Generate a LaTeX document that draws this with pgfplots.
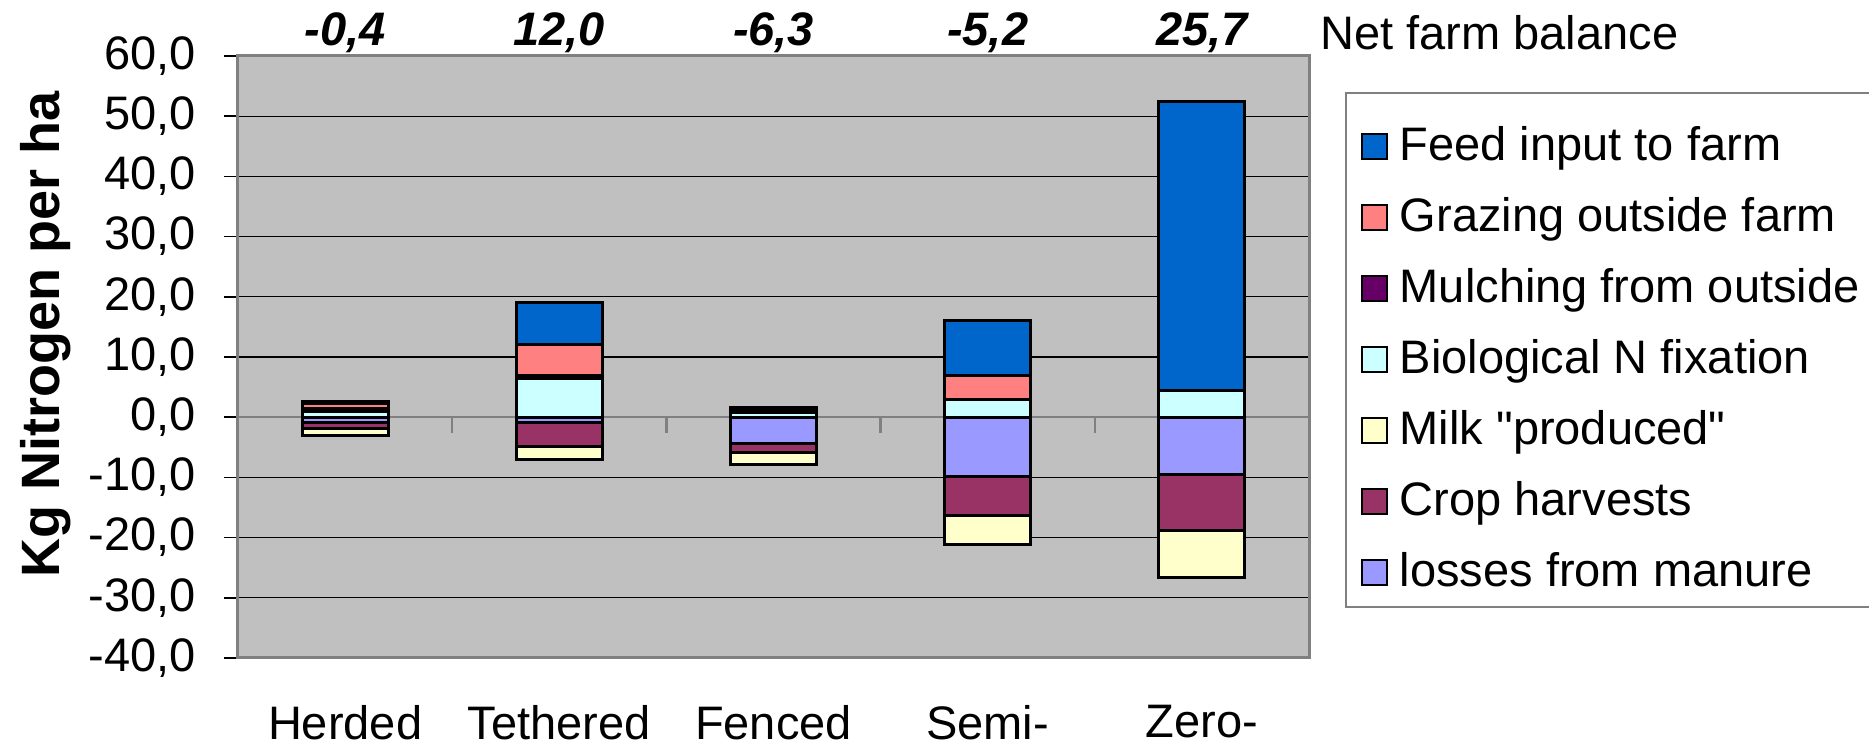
\documentclass[border=0pt]{standalone}
\usepackage{pgfplots}
\pgfplotsset{compat=1.18}
\usepackage{fontspec}
\setmainfont{Liberation Sans}
\definecolor{feed}{HTML}{0066CC}
\definecolor{grazing}{HTML}{FF8080}
\definecolor{mulch}{HTML}{660066}
\definecolor{bio}{HTML}{CCFFFF}
\definecolor{milk}{HTML}{FFFFCC}
\definecolor{crop}{HTML}{993366}
\definecolor{losses}{HTML}{9999FF}
\definecolor{plotbg}{HTML}{C0C0C0}
\definecolor{framegray}{HTML}{808080}
\newcommand{\fs}{\fontsize{23.5}{28}\selectfont}
\pgfplotsset{
  common/.style={width=535.5pt,height=301pt,scale only axis,
    xmin=-0.5,xmax=4.5,ymin=-40,ymax=60,at={(0,0)},anchor=south west,
    ybar stacked,bar width=43pt},
  barstyle/.style={draw=black,line width=1.5pt},
}
\tikzset{netlab/.style={font=\bfseries\itshape\fs}}
\begin{document}
\begin{tikzpicture}
\begin{axis}[common, clip=false,
  axis background/.style={fill=plotbg},
  axis line style={draw=framegray,line width=1.5pt},
  ytick={-40,-30,...,60}, ytick pos=left,
  ymajorgrids, grid style={black,line width=0.6pt},
  tick align=outside, major tick length=7pt,
  y tick style={black,line width=0.8pt},
  xtick={0,1,2,3,4}, xticklabels={Herded,Tethered,Fenced,Semi-,Zero-},
  x tick style={draw=none}, xtick pos=bottom,
  tick label style={font=\fs},
  xticklabel style={yshift=-13pt},
  yticklabel style={xshift=-10.5pt,/pgf/number format/.cd,fixed,fixed zerofill,precision=1,use comma,assume math mode=true},
  ylabel={Kg Nitrogen per ha},
  every axis y label/.style={at={(axis description cs:-0.18,0.538)},rotate=90,anchor=center,font=\bfseries\fontsize{27}{32}\selectfont},
  legend cell align=left,
  legend image code/.code={\draw[#1,draw=black,line width=1pt] (0pt,-11pt) rectangle (12.5pt,1.5pt);},
  legend style={at={(axis description cs:1.0336,0.940)},anchor=north west,
    draw=framegray,line width=0.8pt,inner xsep=7.5pt,inner ysep=10pt,
    font=\fs,row sep=11.5pt,column sep=6pt,
    nodes={inner sep=0pt,text height=24pt,text depth=0pt}},
]
\addlegendimage{fill=feed}\addlegendentry{Feed input to farm}
\addlegendimage{fill=grazing}\addlegendentry{Grazing outside farm}
\addlegendimage{fill=mulch}\addlegendentry{Mulching from outside}
\addlegendimage{fill=bio}\addlegendentry{Biological N fixation}
\addlegendimage{fill=milk}\addlegendentry{Milk \textquotedbl produced\textquotedbl}
\addlegendimage{fill=crop}\addlegendentry{Crop harvests}
\addlegendimage{fill=losses}\addlegendentry{losses from manure}
\draw[framegray,line width=1.2pt] (axis cs:-0.5,0) -- (axis cs:4.5,0);
\draw[framegray,line width=1.2pt] (axis cs:0.5,0) -- (axis cs:0.5,-2.6);
\draw[framegray,line width=1.2pt] (axis cs:1.5,0) -- (axis cs:1.5,-2.6);
\draw[framegray,line width=1.2pt] (axis cs:2.5,0) -- (axis cs:2.5,-2.6);
\draw[framegray,line width=1.2pt] (axis cs:3.5,0) -- (axis cs:3.5,-2.6);
% negative stack (outputs)
\addplot[barstyle,fill=losses,forget plot] coordinates {(0,-0.9) (1,-0.9) (2,-4.4) (3,-9.9) (4,-9.5)};
\addplot[barstyle,fill=crop,forget plot] coordinates {(0,-1.0) (1,-4.0) (2,-1.5) (3,-6.5) (4,-9.4)};
\addplot[barstyle,fill=milk,forget plot] coordinates {(0,-1.1) (1,-2.1) (2,-2.0) (3,-4.8) (4,-7.8)};
% net farm balance
\node[netlab] at (axis cs:0,63.8) {-0,4};
\node[netlab] at (axis cs:1,63.8) {12,0};
\node[netlab] at (axis cs:2,63.8) {-6,3};
\node[netlab] at (axis cs:3,63.8) {-5,2};
\node[netlab] at (axis cs:4,63.8) {25,7};
\node[font=\fs,anchor=west,inner sep=0pt] at (axis cs:4.551,63.8) {Net farm balance};
\end{axis}
\begin{axis}[common, hide axis]
% positive stack (inputs)
\addplot[barstyle,fill=bio] coordinates {(0,0.9) (1,6.5) (2,0.7) (3,3.0) (4,4.5)};
\addplot[barstyle,fill=mulch] coordinates {(0,0.5) (1,0.5) (2,0.6) (3,0.0) (4,0.0)};
\addplot[barstyle,fill=grazing] coordinates {(0,0.9) (1,5.0) (2,0.0) (3,4.0) (4,0.0)};
\addplot[barstyle,fill=feed] coordinates {(0,0.3) (1,7.0) (2,0.3) (3,9.0) (4,47.9)};
\end{axis}
\pgfresetboundingbox
\path (-119pt,-44.5pt) rectangle (815.5pt,329pt);
\end{tikzpicture}
\end{document}
